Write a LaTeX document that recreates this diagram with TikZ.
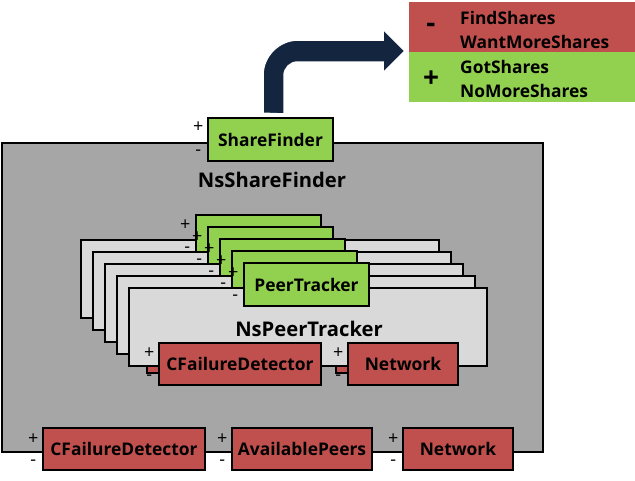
\documentclass[tikz,border=0pt]{standalone}
\usepackage{fontspec}
\setmainfont{Open Sans}
\usetikzlibrary{calc}
\definecolor{grayA}{HTML}{A6A6A6}
\definecolor{grayL}{HTML}{D9D9D9}
\definecolor{grn}{HTML}{92D050}
\definecolor{redB}{HTML}{C0504D}
\definecolor{navy}{HTML}{13253F}
\newcommand{\labfont}{\fontsize{17.4}{24}\selectfont\bfseries}
\newcommand{\bigfont}{\fontsize{20.2}{22}\selectfont\bfseries}
\newcommand{\signfont}{\fontsize{18}{18}\selectfont}
\begin{document}
\begin{tikzpicture}[x=1pt,y=-1pt,
  boxx/.style={draw=black, line width=1.5pt, inner sep=0pt, font=\labfont, text=black},
  greenbox/.style={boxx, fill=grn, minimum width=125pt, minimum height=43pt},
  lightbox/.style={boxx, fill=grayL, minimum width=358pt, minimum height=78pt},
  redbox/.style={boxx, fill=redB, minimum height=42pt},
  sign/.style={font=\signfont, inner sep=0pt, text=black},
  panel/.style={inner sep=0pt, minimum width=226pt, minimum height=50pt},
  paneltext/.style={font=\labfont, align=left, anchor=west, inner sep=0pt, text=black},
  bigsign/.style={font=\fontsize{28}{28}\selectfont\bfseries, inner sep=0pt, text=black}]
\useasboundingbox (0,0) rectangle (635,480);
\fill[white] (0,0) rectangle (635,480);

% outer component
\node[boxx, fill=grayA, minimum width=541pt, minimum height=309pt] (nssf) at (272.5,297.5) {};
\node[font=\bigfont, inner sep=0pt] (nssflabel) at (272,180) {NsShareFinder};

% ShareFinder port
\node[greenbox] (sf) at (270.5,139.5) {ShareFinder};
\node[sign] (sfp) at ([shift={(-9,10)}]sf.north west) {+};
\node[sign] (sfm) at ([shift={(-9,35)}]sf.north west) {-};

% stacked NsPeerTracker layers (back)
\foreach \i in {0,1,2,3}{
  \node[lightbox] (lt\i) at (260+12*\i, 279+12*\i) {};
  \node[greenbox] (pt\i) at (258.5+12*\i, 236.5+12*\i) {};
  \node[sign] (ptp\i) at ([shift={(-10,11)}]pt\i.north west) {+};
  \node[sign] (ptm\i) at ([shift={(-8,35)}]pt\i.north west) {-};
}
\node[redbox, minimum width=162pt] (cfd3) at (228,352) {};
\node[redbox, minimum width=110pt] (net3) at (391,352) {};

% front layer
\node[lightbox] (lt4) at (308,327) {};
\node[greenbox] (pt4) at (306.5,284.5) {PeerTracker};
\node[sign] (ptp4) at ([shift={(-10,11)}]pt4.north west) {+};
\node[sign] (ptm4) at ([shift={(-8,35)}]pt4.north west) {-};
\node[font=\bigfont, inner sep=0pt] (nsptlabel) at (309,329) {NsPeerTracker};
\node[redbox, minimum width=162pt] (cfd4) at (240,364) {CFailureDetector};
\node[sign] (cfd4p) at ([shift={(-9,11)}]cfd4.north west) {+};
\node[sign] (cfd4m) at ([shift={(-9,35)}]cfd4.north west) {-};
\node[redbox, minimum width=110pt] (net4) at (403,364) {Network};
\node[sign] (net4p) at ([shift={(-9,11)}]net4.north west) {+};
\node[sign] (net4m) at ([shift={(-9,35)}]net4.north west) {-};

% bottom ports
\node[redbox, minimum width=162pt] (cfd) at (124,449) {CFailureDetector};
\node[sign] (cfdp) at ([shift={(-9,12)}]cfd.north west) {+};
\node[sign] (cfdm) at ([shift={(-9,35)}]cfd.north west) {-};
\node[redbox, minimum width=140pt] (ap) at (302,449) {AvailablePeers};
\node[sign] (app) at ([shift={(-9,12)}]ap.north west) {+};
\node[sign] (apm) at ([shift={(-9,35)}]ap.north west) {-};
\node[redbox, minimum width=110pt] (net) at (458,449) {Network};
\node[sign] (netp) at ([shift={(-9,12)}]net.north west) {+};
\node[sign] (netm) at ([shift={(-9,35)}]net.north west) {-};

% event panel
\node[panel, fill=redB] (rp) at (522,27) {};
\node[panel, fill=grn] (gp) at (522,77) {};
\node[bigsign] (rpm) at (431,28) {-};
\node[bigsign] (gpp) at (431,79) {+};
\node[paneltext] (rpt) at (460,30) {FindShares\\WantMoreShares};
\node[paneltext] (gpt) at (460,79) {GotShares\\NoMoreShares};

% bent arrow from ShareFinder to panel
\coordinate (arrowtip) at (405,51);
\fill[navy, draw=white, line width=1.5pt, line join=miter]
  (sf.north -| 263,0) ++(0,-4) -- (263,75) .. controls (263,56) and (279,40) .. (298,40)
  -- (383,40) -- (383,29) -- (arrowtip) -- (383,73) -- (383,62) -- (298,62)
  .. controls (290,62) and (284,68) .. (284,76) -- (284,114) -- cycle;
\end{tikzpicture}
\end{document}
